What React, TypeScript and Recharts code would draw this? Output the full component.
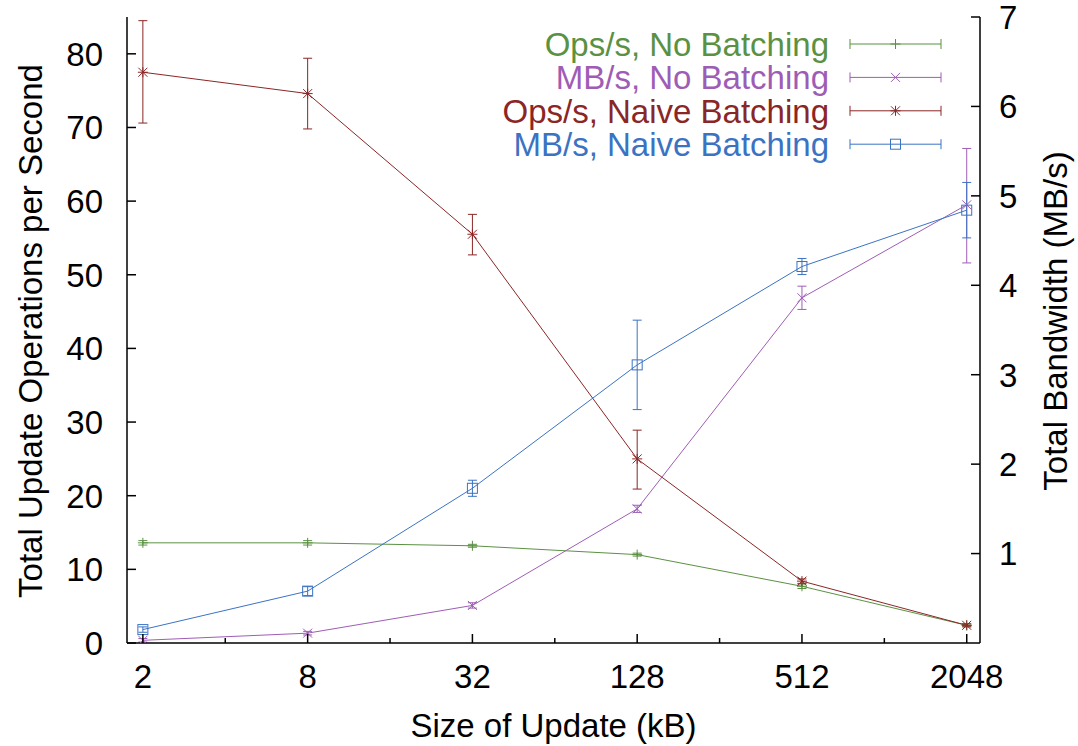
import React from 'react';
import { LineChart, Line, XAxis, YAxis, ErrorBar, Legend, Label } from 'recharts';

const sizes = [2, 8, 32, 128, 512, 2048];
const minorSizes = [4, 16, 64, 256, 1024];
const leftTicks = [0, 10, 20, 30, 40, 50, 60, 70, 80];
const rightTicks = [1, 2, 3, 4, 5, 6, 7];

const opsNoBatch = [13.6, 13.6, 13.2, 12.0, 7.7, 2.4];
const opsNoBatchErr = [0.3, 0.3, 0.2, 0.2, 0.3, 0.2];
const mbNoBatch = [0.03, 0.11, 0.42, 1.5, 3.86, 4.9];
const mbNoBatchErr = [[0.02, 0.02], [0.02, 0.02], [0.03, 0.03], [0.04, 0.04], [0.13, 0.13], [0.65, 0.63]];
const opsNaive = [77.5, 74.6, 55.5, 25.0, 8.4, 2.4];
const opsNaiveErr = [[6.9, 7.0], [4.8, 4.8], [2.8, 2.7], [4.1, 3.9], [0.3, 0.3], [0.2, 0.2]];
const mbNaive = [0.15, 0.58, 1.73, 3.11, 4.21, 4.84];
const mbNaiveErr = [0.03, 0.05, 0.09, 0.5, 0.09, 0.31];

const GREEN = '#5b9142';
const PURPLE = '#9e5db5';
const RED = '#8b2626';
const BLUE = '#3b73c3';
const FONT = '"Liberation Sans", Arial, Helvetica, sans-serif';
const FS = 33;

const data = sizes.map((s, i) => ({
  size: s,
  opsNoBatch: opsNoBatch[i],
  opsNoBatchErr: opsNoBatchErr[i],
  mbNoBatch: mbNoBatch[i],
  mbNoBatchErr: mbNoBatchErr[i],
  opsNaive: opsNaive[i],
  opsNaiveErr: opsNaiveErr[i],
  mbNaive: mbNaive[i],
  mbNaiveErr: mbNaiveErr[i],
}));

const series = [
  { key: 'opsNoBatch', axis: 'left', color: GREEN, shape: 'plus', name: 'Ops/s, No Batching' },
  { key: 'mbNoBatch', axis: 'right', color: PURPLE, shape: 'cross', name: 'MB/s, No Batching' },
  { key: 'opsNaive', axis: 'left', color: RED, shape: 'star', name: 'Ops/s, Naive Batching' },
  { key: 'mbNaive', axis: 'right', color: BLUE, shape: 'square', name: 'MB/s, Naive Batching' },
];

function Marker({ cx, cy, color, shape }: any) {
  if (cx == null || cy == null) return null;
  if (shape === 'plus') {
    return <path d={`M${cx - 5},${cy}h10M${cx},${cy - 5}v10`} stroke={color} strokeWidth={1} fill="none" />;
  }
  if (shape === 'cross') {
    return <path d={`M${cx - 4.5},${cy - 4.5}l9,9M${cx - 4.5},${cy + 4.5}l9,-9`} stroke={color} strokeWidth={1} fill="none" />;
  }
  if (shape === 'star') {
    return (
      <path
        d={`M${cx - 5},${cy}h10M${cx},${cy - 5}v10M${cx - 4.5},${cy - 4.5}l9,9M${cx - 4.5},${cy + 4.5}l9,-9`}
        stroke={color}
        strokeWidth={1}
        fill="none"
      />
    );
  }
  return <rect x={cx - 5} y={cy - 5} width={10} height={10} stroke={color} strokeWidth={1} fill="none" />;
}

const isMajor = (v: number) => sizes.includes(v);

function BottomTick({ x, y, payload }: any) {
  const major = isMajor(payload.value);
  return (
    <g>
      <line x1={x} x2={x} y1={y} y2={y - (major ? 9 : 5)} stroke="#000" strokeWidth={1.5} />
      {major && (
        <text x={x} y={y + 45} textAnchor="middle" fontSize={FS} fontFamily={FONT} fill="#000">
          {payload.value}
        </text>
      )}
    </g>
  );
}

function TopTick({ x, y, payload }: any) {
  const major = isMajor(payload.value);
  return <line x1={x} x2={x} y1={y} y2={y + (major ? 9 : 5)} stroke="#000" strokeWidth={1.5} />;
}

function LeftTick({ x, y, payload }: any) {
  return (
    <g>
      <line x1={x} x2={x + 9} y1={y} y2={y} stroke="#000" strokeWidth={1.5} />
      <text x={x - 24} y={y} dy="0.36em" textAnchor="end" fontSize={FS} fontFamily={FONT} fill="#000">
        {payload.value}
      </text>
    </g>
  );
}

function RightTick({ x, y, payload }: any) {
  return (
    <g>
      <line x1={x - 9} x2={x} y1={y} y2={y} stroke="#000" strokeWidth={1.5} />
      <text x={x + 19} y={y} dy="0.36em" textAnchor="start" fontSize={FS} fontFamily={FONT} fill="#000">
        {payload.value}
      </text>
    </g>
  );
}

function LegendBox() {
  return (
    <svg width={1078} height={170} style={{ display: 'block' }}>
      {series.map((s, i) => {
        const y = 44 + i * 33.4;
        return (
          <g key={s.key}>
            <text x={829} y={y + 12} textAnchor="end" fontSize={FS} fontFamily={FONT} fill={s.color}>
              {s.name}
            </text>
            <path d={`M850,${y}H941M850,${y - 5}v10M941,${y - 5}v10`} stroke={s.color} strokeWidth={1} fill="none" />
            <Marker cx={895.5} cy={y} color={s.color} shape={s.shape} />
          </g>
        );
      })}
    </svg>
  );
}

export default function App() {
  return (
    <div style={{ position: 'absolute', left: 0, top: 0, width: 1078, height: 746, background: '#fff' }}>
      <LineChart width={1078} height={746} data={data} margin={{ top: 17, right: 0, bottom: 0, left: 0 }}>
        <XAxis
          dataKey="size"
          type="number"
          scale="log"
          domain={[1.75, 2290]}
          allowDataOverflow
          ticks={[...sizes, ...minorSizes].sort((a, b) => a - b)}
          interval={0}
          height={103}
          tickSize={0}
          tickMargin={0}
          tickLine={false}
          tick={(p: any) => <BottomTick {...p} />}
          axisLine={{ stroke: '#000', strokeWidth: 1.5 }}
        >
          <Label
            content={(p: any) => {
              const vb = p.viewBox;
              return (
                <text x={vb.x + vb.width / 2} y={vb.y + 94} textAnchor="middle" fontSize={FS} fontFamily={FONT} fill="#000">
                  Size of Update (kB)
                </text>
              );
            }}
          />
        </XAxis>
        <XAxis
          xAxisId="top"
          orientation="top"
          dataKey="size"
          type="number"
          scale="log"
          domain={[1.75, 2290]}
          allowDataOverflow
          ticks={[...sizes, ...minorSizes].sort((a, b) => a - b)}
          interval={0}
          height={0}
          tickSize={0}
          tickMargin={0}
          tickLine={false}
          tick={(p: any) => <TopTick {...p} />}
          axisLine={{ stroke: '#000', strokeWidth: 1.5 }}
        />
        <YAxis
          yAxisId="left"
          orientation="left"
          type="number"
          domain={[0, 85]}
          allowDataOverflow
          ticks={leftTicks}
          interval={0}
          width={127}
          tickSize={0}
          tickMargin={0}
          tickLine={false}
          tick={(p: any) => <LeftTick {...p} />}
          axisLine={{ stroke: '#000', strokeWidth: 1.5 }}
        >
          <Label
            content={(p: any) => {
              const vb = p.viewBox;
              const cy = vb.y + vb.height / 2 + 1;
              return (
                <text transform={`translate(41.5,${cy}) rotate(-90)`} textAnchor="middle" fontSize={FS} fontFamily={FONT} fill="#000">
                  Total Update Operations per Second
                </text>
              );
            }}
          />
        </YAxis>
        <YAxis
          yAxisId="right"
          orientation="right"
          type="number"
          domain={[0, 7]}
          allowDataOverflow
          ticks={rightTicks}
          interval={0}
          width={98}
          tickSize={0}
          tickMargin={0}
          tickLine={false}
          tick={(p: any) => <RightTick {...p} />}
          axisLine={{ stroke: '#000', strokeWidth: 1.5 }}
        >
          <Label
            content={(p: any) => {
              const vb = p.viewBox;
              const cy = vb.y + vb.height / 2 - 9;
              return (
                <text transform={`translate(${vb.x + 86.5},${cy}) rotate(-90)`} textAnchor="middle" fontSize={FS} fontFamily={FONT} fill="#000">
                  Total Bandwidth (MB/s)
                </text>
              );
            }}
          />
        </YAxis>
        <Legend
          layout="horizontal"
          align="center"
          verticalAlign="middle"
          content={() => <LegendBox />}
          wrapperStyle={{ position: 'absolute', left: 0, top: 0, width: 1078, height: 170 }}
        />
        {series.map((s) => (
          <Line
            key={s.key}
            yAxisId={s.axis}
            dataKey={s.key}
            name={s.name}
            stroke={s.color}
            strokeWidth={1}
            isAnimationActive={false}
            legendType="none"
            dot={(p: any) => <Marker key={`${s.key}-${p.index}`} cx={p.cx} cy={p.cy} color={s.color} shape={s.shape} />}
            activeDot={false}
          >
            <ErrorBar
              dataKey={`${s.key}Err`}
              width={4.5}
              stroke={s.color}
              strokeWidth={1}
              direction="y"
              isAnimationActive={false}
            />
          </Line>
        ))}
      </LineChart>
    </div>
  );
}
